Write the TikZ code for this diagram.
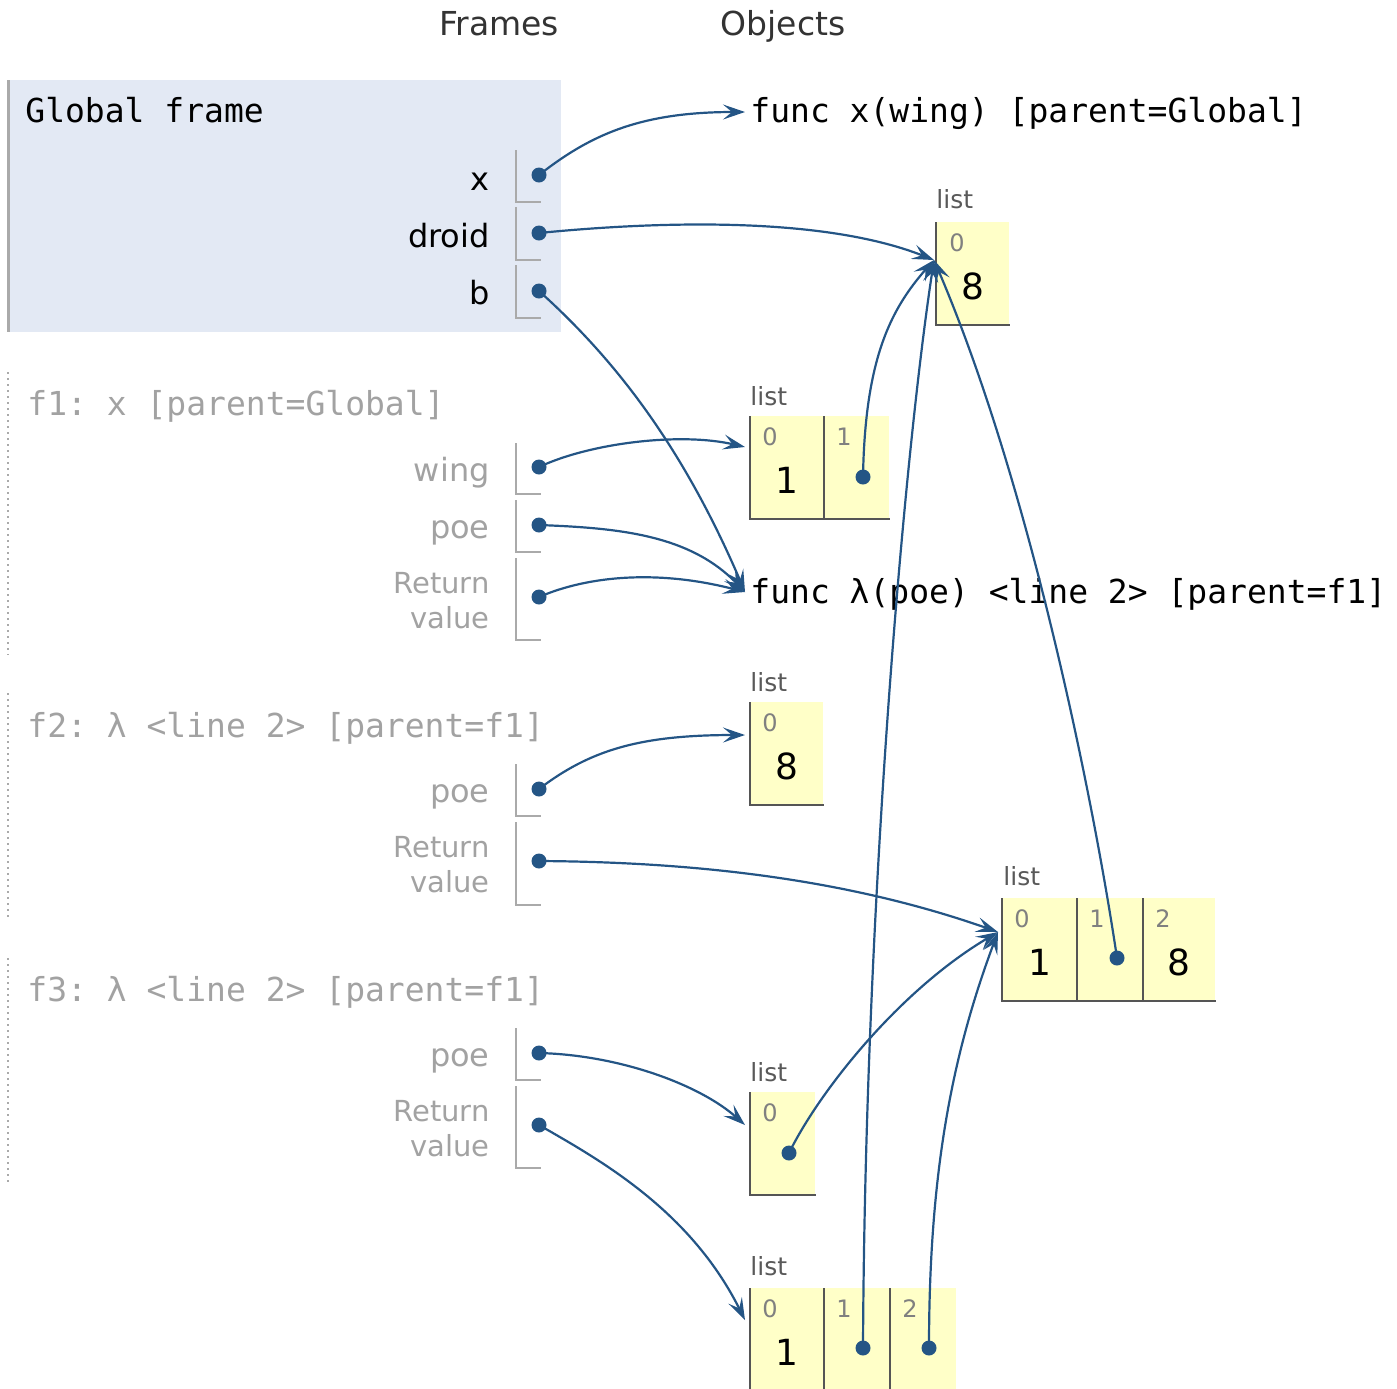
\documentclass[tikz,border=0pt]{standalone}
\usepackage{fontspec}
\setmainfont{DejaVu Sans}
\setmonofont{DejaVu Sans Mono}
\usetikzlibrary{arrows.meta,calc}
\definecolor{ptblue}{HTML}{245585}
\definecolor{framebg}{HTML}{E3E9F4}
\definecolor{listbg}{HTML}{FFFFC8}
\definecolor{greytxt}{HTML}{A2A2A2}
\definecolor{brk}{HTML}{AAAAAA}
\definecolor{lborder}{HTML}{555555}
\begin{document}
\begin{tikzpicture}[x=0.5pt,y=-0.5pt,
  mono/.style={font=\fontsize{16.5}{20}\selectfont\ttfamily, inner sep=0, anchor=base west},
  hdr/.style={font=\fontsize{16.5}{20}\selectfont, inner sep=0, anchor=base, text=black!80},
  var/.style={font=\fontsize{16}{19}\selectfont, inner sep=0, anchor=base east},
  ret/.style={font=\fontsize{14.5}{17}\selectfont, inner sep=0, anchor=base east, text=greytxt},
  bracket/.style={draw=brk, line width=1pt},
  ptr/.style={circle, fill=ptblue, inner sep=0, minimum size=7.5pt},
  arr/.style={draw=ptblue, line width=1.1pt, -{Stealth[length=11pt,width=7.5pt,inset=4.5pt]}},
  cellbox/.style={fill=listbg, inner sep=0, anchor=north west, minimum height=51pt},
  lst/.style={font=\fontsize{12.5}{15}\selectfont, inner sep=0, anchor=base west, text=black!65},
  idx/.style={font=\fontsize{12}{14}\selectfont, inner sep=0, anchor=base west, text=black!50},
  val/.style={font=\fontsize{18}{21}\selectfont, inner sep=0, anchor=base}]
\useasboundingbox (0,0) rectangle (1397,1388);

% headers
\node[hdr] (hF) at (499,35) {Frames};
\node[hdr] (hO) at (783,35) {Objects};

% global frame
\fill[framebg] (8,80) rectangle (561,332);
\draw[brk, line width=1.5pt] (8,80) -- (8,332);
\node[mono] (gtitle) at (25,122) {Global frame};
\node[var] (lx) at (490,190) {x};
\node[var] (ldroid) at (490,247) {droid};
\node[var] (lb) at (490,304) {b};
\draw[bracket] (516,150) -- (516,202) -- (541,202);
\draw[bracket] (516,207) -- (516,260) -- (541,260);
\draw[bracket] (516,265) -- (516,318) -- (541,318);
\node[ptr] (gx) at (539,175) {};
\node[ptr] (gdroid) at (539,233) {};
\node[ptr] (gb) at (539,291) {};

% f1
\draw[brk, line width=1pt, dotted] (8,372) -- (8,655);
\node[mono, text=greytxt] (f1t) at (27,415) {f1: x [parent=Global]};
\node[var, text=greytxt] (lwing) at (490,481) {wing};
\node[var, text=greytxt] (lpoe1) at (490,538) {poe};
\node[ret] (lr1a) at (490,593) {Return};
\node[ret] (lr1b) at (490,628) {value};
\draw[bracket] (516,443) -- (516,494) -- (541,494);
\draw[bracket] (516,500) -- (516,552) -- (541,552);
\draw[bracket] (516,558) -- (516,640) -- (541,640);
\node[ptr] (f1wing) at (539,467) {};
\node[ptr] (f1poe) at (539,525) {};
\node[ptr] (f1ret) at (539,597) {};

% f2
\draw[brk, line width=1pt, dotted] (8,693) -- (8,918);
\node[mono, text=greytxt] (f2t) at (27,737) {f2: λ <line 2> [parent=f1]};
\node[var, text=greytxt] (lpoe2) at (490,802) {poe};
\node[ret] (lr2a) at (490,857) {Return};
\node[ret] (lr2b) at (490,892) {value};
\draw[bracket] (516,764) -- (516,816) -- (541,816);
\draw[bracket] (516,822) -- (516,905) -- (541,905);
\node[ptr] (f2poe) at (539,789) {};
\node[ptr] (f2ret) at (539,861) {};

% f3
\draw[brk, line width=1pt, dotted] (8,958) -- (8,1183);
\node[mono, text=greytxt] (f3t) at (27,1001) {f3: λ <line 2> [parent=f1]};
\node[var, text=greytxt] (lpoe3) at (490,1066) {poe};
\node[ret] (lr3a) at (490,1121) {Return};
\node[ret] (lr3b) at (490,1156) {value};
\draw[bracket] (516,1028) -- (516,1080) -- (541,1080);
\draw[bracket] (516,1086) -- (516,1168) -- (541,1168);
\node[ptr] (f3poe) at (539,1053) {};
\node[ptr] (f3ret) at (539,1125) {};

% functions
\node[mono] (fx) at (750,122) {func x(wing) [parent=Global]};
\node[mono] (fl) at (750,603) {func λ(poe) <line 2> [parent=f1]};

% list A
\node[lst] (lA) at (936,208) {list};
\node[cellbox, minimum width=36.5pt] (A0) at (936,222) {};
\draw[lborder, line width=1pt] (A0.north west) -- (A0.south west) -- (A0.south east);
\node[idx] (A0i) at ($(A0.north west)+(13,29)$) {0};
\node[val] (A0v) at ($(A0.north)+(0,77)$) {8};

% list B
\node[lst] (lB) at (750,405) {list};
\node[cellbox, minimum width=37pt] (B0) at (750,416) {};
\node[cellbox, minimum width=32.5pt] (B1) at (824,416) {};
\draw[lborder, line width=1pt] (B0.north west) -- (B0.south west) -- (B1.south east);
\draw[lborder, line width=1pt] (B1.north west) -- (B1.south west);
\node[idx] (B0i) at ($(B0.north west)+(12,29)$) {0};
\node[val] (B0v) at ($(B0.north)+(0,77)$) {1};
\node[idx] (B1i) at ($(B1.north west)+(12,29)$) {1};

% list C
\node[lst] (lC) at (750,691) {list};
\node[cellbox, minimum width=36.5pt] (C0) at (750,702) {};
\draw[lborder, line width=1pt] (C0.north west) -- (C0.south west) -- (C0.south east);
\node[idx] (C0i) at ($(C0.north west)+(12,29)$) {0};
\node[val] (C0v) at ($(C0.north)+(0,77)$) {8};

% list D
\node[lst] (lD) at (1003,885) {list};
\node[cellbox, minimum width=37.5pt] (D0) at (1002,898) {};
\node[cellbox, minimum width=33pt] (D1) at (1077,898) {};
\node[cellbox, minimum width=36pt] (D2) at (1143,898) {};
\draw[lborder, line width=1pt] (D0.north west) -- (D0.south west) -- (D2.south east);
\draw[lborder, line width=1pt] (D1.north west) -- (D1.south west);
\draw[lborder, line width=1pt] (D2.north west) -- (D2.south west);
\node[idx] (D0i) at ($(D0.north west)+(12,29)$) {0};
\node[val] (D0v) at ($(D0.north)+(0,77)$) {1};
\node[idx] (D1i) at ($(D1.north west)+(12,29)$) {1};
\node[idx] (D2i) at ($(D2.north west)+(12,29)$) {2};
\node[val] (D2v) at ($(D2.north)+(0,77)$) {8};

% list E
\node[lst] (lE) at (750,1081) {list};
\node[cellbox, minimum width=32.5pt] (E0) at (750,1092) {};
\draw[lborder, line width=1pt] (E0.north west) -- (E0.south west) -- (E0.south east);
\node[idx] (E0i) at ($(E0.north west)+(12,29)$) {0};

% list F
\node[lst] (lF) at (750,1275) {list};
\node[cellbox, minimum width=37pt] (F0) at (750,1288) {};
\node[cellbox, minimum width=33pt] (F1) at (824,1288) {};
\node[cellbox, minimum width=33pt] (F2) at (890,1288) {};
\draw[lborder, line width=1pt] (F0.north west) -- (F0.south west) -- (F2.south east);
\draw[lborder, line width=1pt] (F1.north west) -- (F1.south west);
\draw[lborder, line width=1pt] (F2.north west) -- (F2.south west);
\node[idx] (F0i) at ($(F0.north west)+(12,29)$) {0};
\node[val] (F0v) at ($(F0.north)+(0,77)$) {1};
\node[idx] (F1i) at ($(F1.north west)+(12,29)$) {1};
\node[idx] (F2i) at ($(F2.north west)+(12,29)$) {2};

% pointer dots in lists
\node[ptr] (B1d) at (863,477) {};
\node[ptr] (D1d) at (1117,958) {};
\node[ptr] (E0d) at (789,1153) {};
\node[ptr] (F1d) at (863,1348) {};
\node[ptr] (F2d) at (929,1348) {};

% arrow targets
\coordinate (tFx) at (745,112);
\coordinate (tA) at (934,260);
\coordinate (tB) at (745,447);
\coordinate (tL) at (745,592);
\coordinate (tC) at (745,735);
\coordinate (tD) at (998,932);
\coordinate (tE) at (745,1125);
\coordinate (tF) at (745,1320);

% arrows
\draw[arr] (gx.center) .. controls (590,135) and (640,112) .. (tFx);
\draw[arr] (gdroid.center) .. controls (650,222) and (820,215) .. (tA);
\draw[arr] (gb.center) .. controls (610,355) and (680,440) .. (tL);
\draw[arr] (f1wing.center) .. controls (590,443) and (680,432) .. (tB);
\draw[arr] (f1poe.center) .. controls (620,528) and (690,535) .. (tL);
\draw[arr] (f1ret.center) .. controls (590,575) and (660,570) .. (tL);
\draw[arr] (f2poe.center) .. controls (590,750) and (640,735) .. (tC);
\draw[arr] (f2ret.center) .. controls (700,862) and (850,880) .. (tD);
\draw[arr] (f3poe.center) .. controls (620,1055) and (700,1085) .. (tE);
\draw[arr] (f3ret.center) .. controls (600,1160) and (690,1210) .. (tF);
\draw[arr] (B1d.center) .. controls (865,360) and (890,310) .. (tA);
\draw[arr] (D1d.center) .. controls (1092,790) and (1028,480) .. (tA);
\draw[arr] (E0d.center) .. controls (820,1090) and (900,990) .. (tD);
\draw[arr] (F1d.center) .. controls (865,900) and (905,450) .. (tA);
\draw[arr] (F2d.center) .. controls (929,1180) and (950,1060) .. (tD);
\end{tikzpicture}
\end{document}
